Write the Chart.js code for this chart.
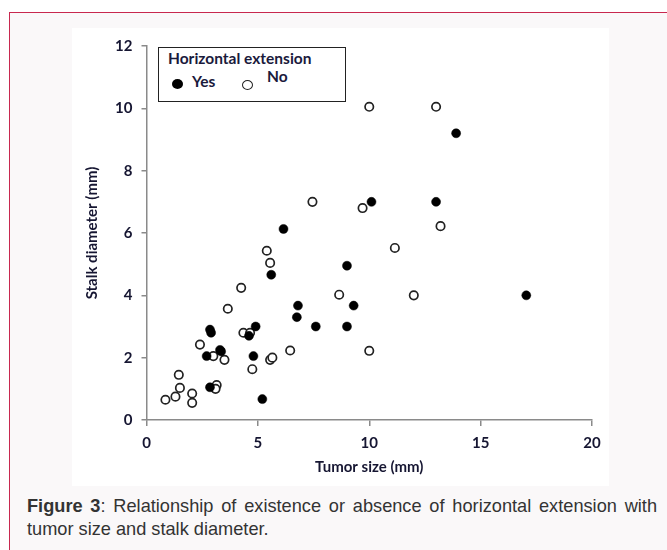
<!DOCTYPE html>
<html>
<head>
<meta charset="utf-8">
<script src="https://cdn.jsdelivr.net/npm/chart.js@4.4.1/dist/chart.umd.min.js"></script>
<style>
  html, body { margin: 0; padding: 0; background: #fff; }
  body { width: 667px; height: 550px; position: relative; overflow: hidden; }
  .frame {
    position: absolute; left: 9px; top: 12px; width: 700px; height: 600px;
    border: 1.5px solid #c8284f; background: #faf8f9;
  }
  .panel {
    position: absolute; left: 72px; top: 28px; width: 537px; height: 458px; background: #fff;
  }
  .legend {
    position: absolute; left: 158px; top: 47px; width: 186px; height: 53px;
    border: 1.5px solid #222; background: #fff;
    font-family: Lato, sans-serif; font-weight: bold; color: #1a1a3c;
  }
  .legend .ttl { position: absolute; left: 9px; top: 1px; font-size: 15.5px; white-space: nowrap; }
  .legend .dot { position: absolute; width: 11px; height: 10px; border-radius: 50%; box-sizing: border-box; }
  .legend .lbl { position: absolute; font-size: 15.5px; }
  .caption {
    position: absolute; left: 27px; top: 495px; width: 630px;
    font-family: "Liberation Sans", Arial, sans-serif; font-size: 18.2px; line-height: 23px;
    color: #333;
  }
  .caption .l1 { text-align: justify; text-align-last: justify; white-space: nowrap; }
</style>
</head>
<body>
<div class="frame"></div>
<div class="panel"><canvas id="grafico" width="537" height="458"></canvas></div>
<div class="legend">
  <div class="ttl">Horizontal extension</div>
  <div class="dot" style="left:13px; top:31px; background:#000;"></div>
  <div class="lbl" style="left:33px; top:24px;">Yes</div>
  <div class="dot" style="left:83px; top:32px; border:1.6px solid #222; background:#fff;"></div>
  <div class="lbl" style="left:108px; top:19px;">No</div>
</div>
<div class="caption">
  <div class="l1"><b>Figure 3</b>: Relationship of existence or absence of horizontal extension with</div>
  <div>tumor size and stalk diameter.</div>
</div>
<script>
// tumor size (mm) / stalk diameter (mm)
const conExtensionX = [2.85, 2.9, 4.9, 4.6, 3.3, 3.35, 2.7, 4.8, 2.85, 5.2, 5.6, 6.15, 6.8, 6.75, 7.6, 9.0, 9.0, 9.3, 10.1, 13.0, 13.9, 17.05]
const conExtensionY = [2.9, 2.8, 3.0, 2.7, 2.25, 2.2, 2.05, 2.05, 1.05, 0.67, 4.66, 6.13, 3.67, 3.3, 3.0, 3.0, 4.95, 3.67, 7.0, 7.0, 9.2, 4.0]

const sinExtensionX = [0.85, 1.3, 1.5, 1.45, 2.05, 2.05, 2.4, 3.0, 3.5, 3.15, 3.1, 3.65, 4.25, 4.35, 4.65, 4.75, 5.4, 5.55, 5.55, 5.65, 6.45, 7.45, 8.65, 9.7, 10.0, 10.0, 11.15, 12.0, 13.0, 13.2]
const sinExtensionY = [0.65, 0.75, 1.03, 1.45, 0.85, 0.55, 2.42, 2.05, 1.93, 1.12, 1.0, 3.57, 4.24, 2.8, 2.8, 1.63, 5.43, 5.04, 1.93, 2.0, 2.23, 7.0, 4.02, 6.8, 2.22, 10.05, 5.52, 4.0, 10.05, 6.22]

const ticksX = [0, 5, 10, 15, 20]
const ticksY = [0, 2, 4, 6, 8, 10, 12]

const puntos = (xs, ys) => xs.map((x, i) => ({ x: x, y: ys[i] }))

const colorTexto = "#161632"
const colorEje = "#8a8a8a"

new Chart(document.getElementById("grafico"), {
  type: "scatter",
  data: {
    datasets: [
      {
        label: "Yes",
        data: puntos(conExtensionX, conExtensionY),
        pointRadius: 4.5,
        pointBackgroundColor: "#000",
        pointBorderColor: "#000",
        pointBorderWidth: 0.5,
      },
      {
        label: "No",
        data: puntos(sinExtensionX, sinExtensionY),
        pointRadius: 4.2,
        pointBackgroundColor: "#fff",
        pointBorderColor: "#222",
        pointBorderWidth: 1.7,
      },
    ],
  },
  options: {
    responsive: false,
    animation: false,
    layout: { padding: { top: 16, right: 17, left: 0, bottom: 0 } },
    plugins: { legend: { display: false }, tooltip: { enabled: false } },
    scales: {
      x: {
        type: "linear",
        min: 0,
        max: 20,
        afterBuildTicks: (s) => { s.ticks = ticksX.map((v) => ({ value: v })) },
        afterFit: (s) => { s.height = 66 },
        grid: { drawOnChartArea: false, color: colorEje, tickLength: 6, lineWidth: 1.5 },
        border: { color: colorEje, width: 1.5 },
        ticks: { color: colorTexto, padding: 8, font: { family: "Lato", size: 15, weight: "bold" } },
        title: {
          display: true,
          text: "Tumor size (mm)",
          color: colorTexto,
          padding: { top: 0, bottom: 10 },
          font: { family: "Lato", size: 15, weight: "bold" },
        },
      },
      y: {
        type: "linear",
        min: 0,
        max: 12,
        afterBuildTicks: (s) => { s.ticks = ticksY.map((v) => ({ value: v })) },
        afterFit: (s) => { s.width = 74.5 },
        grid: { drawOnChartArea: false, color: colorEje, tickLength: 5, lineWidth: 1.5 },
        border: { color: colorEje, width: 1.5 },
        ticks: { color: colorTexto, padding: 9, font: { family: "Lato", size: 15, weight: "bold" } },
        title: {
          display: true,
          text: "Stalk diameter (mm)",
          color: colorTexto,
          padding: { top: 11, bottom: 0 },
          font: { family: "Lato", size: 15, weight: "bold" },
        },
      },
    },
  },
})
</script>
</body>
</html>
